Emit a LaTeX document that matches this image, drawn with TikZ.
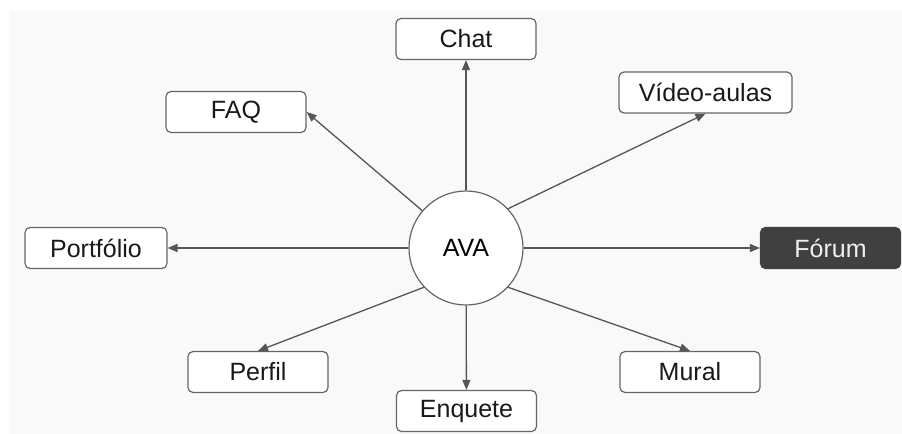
\documentclass[tikz,border=0pt]{standalone}
\usepackage{fontspec}
\setmainfont{Liberation Sans}
\usetikzlibrary{arrows.meta}
\definecolor{bggray}{RGB}{249,249,249}
\definecolor{edgegray}{RGB}{102,102,102}
\definecolor{linegray}{RGB}{85,85,85}
\definecolor{darkbox}{RGB}{64,64,64}
\definecolor{lighttext}{RGB}{240,240,240}

\begin{document}
\begin{tikzpicture}[
  x=0.5pt,y=-0.5pt,
  >={Triangle[length=5pt,width=4pt]},
  item/.style={draw=edgegray,line width=0.6pt,rounded corners=2.5pt,fill=white,
    minimum width=70pt,minimum height=20.5pt,inner sep=0pt,font=\fontsize{12.5}{14}\selectfont,text=black!90},
  dark/.style={item,draw=darkbox,fill=darkbox,text=lighttext},
  hub/.style={circle,draw=edgegray,line width=0.6pt,fill=white,minimum size=57pt,inner sep=0pt,
    font=\fontsize{12.5}{14}\selectfont},
  link/.style={->,draw=linegray,line width=0.65pt}
]
  \useasboundingbox (0,0) rectangle (902,434);
  \fill[bggray] (9,11) rectangle (902,434);
  % hub and surrounding tools
  \node[hub] (ava) at (466,248) {AVA};
  \node[item] (chat) at (466,39) {Chat};
  \node[item] (faq) at (236,112) {FAQ};
  \node[item,minimum width=86.5pt] (video) at (705.5,92.5) {Vídeo-aulas};
  \node[item,minimum width=71pt] (portfolio) at (96,248) {Portfólio};
  \node[dark] (forum) at (830.5,248) {Fórum};
  \node[item] (perfil) at (258,372) {Perfil};
  \node[item] (enquete) at (466.5,411) {Enquete};
  \node[item] (mural) at (690,372) {Mural};
  % arrows out of the hub
  \draw[link] (ava) -- (chat);
  \draw[link] (ava) -- (faq.east);
  \draw[link] (ava.43) -- (video.south);
  \draw[link] (ava) -- (portfolio);
  \draw[link] (ava) -- (forum);
  \draw[link] (ava.223) -- (perfil.north);
  \draw[link] (ava) -- (enquete);
  \draw[link] (ava.-43) -- (mural.north);
\end{tikzpicture}
\end{document}
